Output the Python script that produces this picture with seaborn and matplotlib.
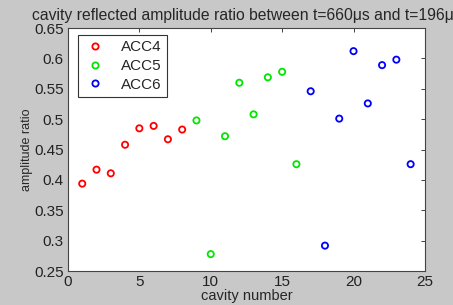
import pandas as pd
import matplotlib
matplotlib.use('Agg')
import matplotlib.pyplot as plt
import seaborn as sns

# Values
cavity_acc4 = [1, 2, 3, 4, 5, 6, 7, 8]
ratio_acc4 = [0.394, 0.417, 0.411, 0.458, 0.485, 0.489, 0.467, 0.483]
cavity_acc5 = [9, 10, 11, 12, 13, 14, 15, 16]
ratio_acc5 = [0.498, 0.278, 0.472, 0.560, 0.508, 0.569, 0.578, 0.426]
cavity_acc6 = [17, 18, 19, 20, 21, 22, 23, 24]
ratio_acc6 = [0.546, 0.292, 0.501, 0.612, 0.526, 0.589, 0.598, 0.426]
modules = ['ACC4', 'ACC5', 'ACC6']
x_ticks = [0, 5, 10, 15, 20, 25]
y_ticks = [0.25, 0.3, 0.35, 0.4, 0.45, 0.5, 0.55, 0.6, 0.65]


def main():
    df = pd.DataFrame({
        'cavity': cavity_acc4 + cavity_acc5 + cavity_acc6,
        'ratio': ratio_acc4 + ratio_acc5 + ratio_acc6,
        'module': ['ACC4'] * 8 + ['ACC5'] * 8 + ['ACC6'] * 8,
    })

    sns.set_style('white')
    plt.rcParams['font.family'] = ['Liberation Sans', 'DejaVu Sans']

    fig = plt.figure(figsize=(4.53, 3.05), dpi=100, facecolor='#c8c8c8')
    ax = fig.add_axes([0.150, 0.111, 0.788, 0.797])

    palette = {'ACC4': '#ff0000', 'ACC5': '#00e600', 'ACC6': '#0000ff'}
    sns.scatterplot(data=df, x='cavity', y='ratio', hue='module', hue_order=modules,
                    palette=palette, marker='o', s=20, facecolors='none',
                    linewidth=1.3, ax=ax, legend=False)
    # open circles: edge color per hue
    coll = ax.collections[0]
    coll.set_edgecolors([palette[m] for m in df['module']])
    coll.set_facecolors('none')

    ax.set_xlim(0, 25)
    ax.set_ylim(0.25, 0.65)
    ax.set_xticks(x_ticks)
    ax.set_yticks(y_ticks)
    ax.set_yticklabels(['0.25', '0.3', '0.35', '0.4', '0.45', '0.5', '0.55', '0.6', '0.65'])
    ax.tick_params(direction='in', top=True, right=True, length=3, width=0.6,
                   labelsize=11, colors='#222222', pad=3)
    for sp in ax.spines.values():
        sp.set_color('#444444')
        sp.set_linewidth(0.8)

    ax.set_xlabel('cavity number', fontsize=10.5, labelpad=0)
    ax.set_ylabel('amplitude ratio', fontsize=9, labelpad=1)
    # title is wider than the figure in the original, so it is clipped at the right
    ax.set_title('cavity reflected amplitude ratio between t=660\u03bcs and t=196\u03bcs',
                 fontsize=11.3, pad=6)

    handles = [plt.Line2D([], [], linestyle='none', marker='o', markersize=4.5,
                          markerfacecolor='none', markeredgecolor=palette[m],
                          markeredgewidth=1.3) for m in modules]
    leg = ax.legend(handles, modules, loc='upper left', fontsize=11, fancybox=False,
                    framealpha=1, edgecolor='#333333', handletextpad=0.9,
                    borderpad=0.35, labelspacing=0.3, handlelength=1.6,
                    borderaxespad=0.3, bbox_to_anchor=(0.015, 0.99))
    leg.get_frame().set_linewidth(0.8)

    fig.savefig('out.png', dpi=100, facecolor=fig.get_facecolor())


if __name__ == "__main__":
    main()
